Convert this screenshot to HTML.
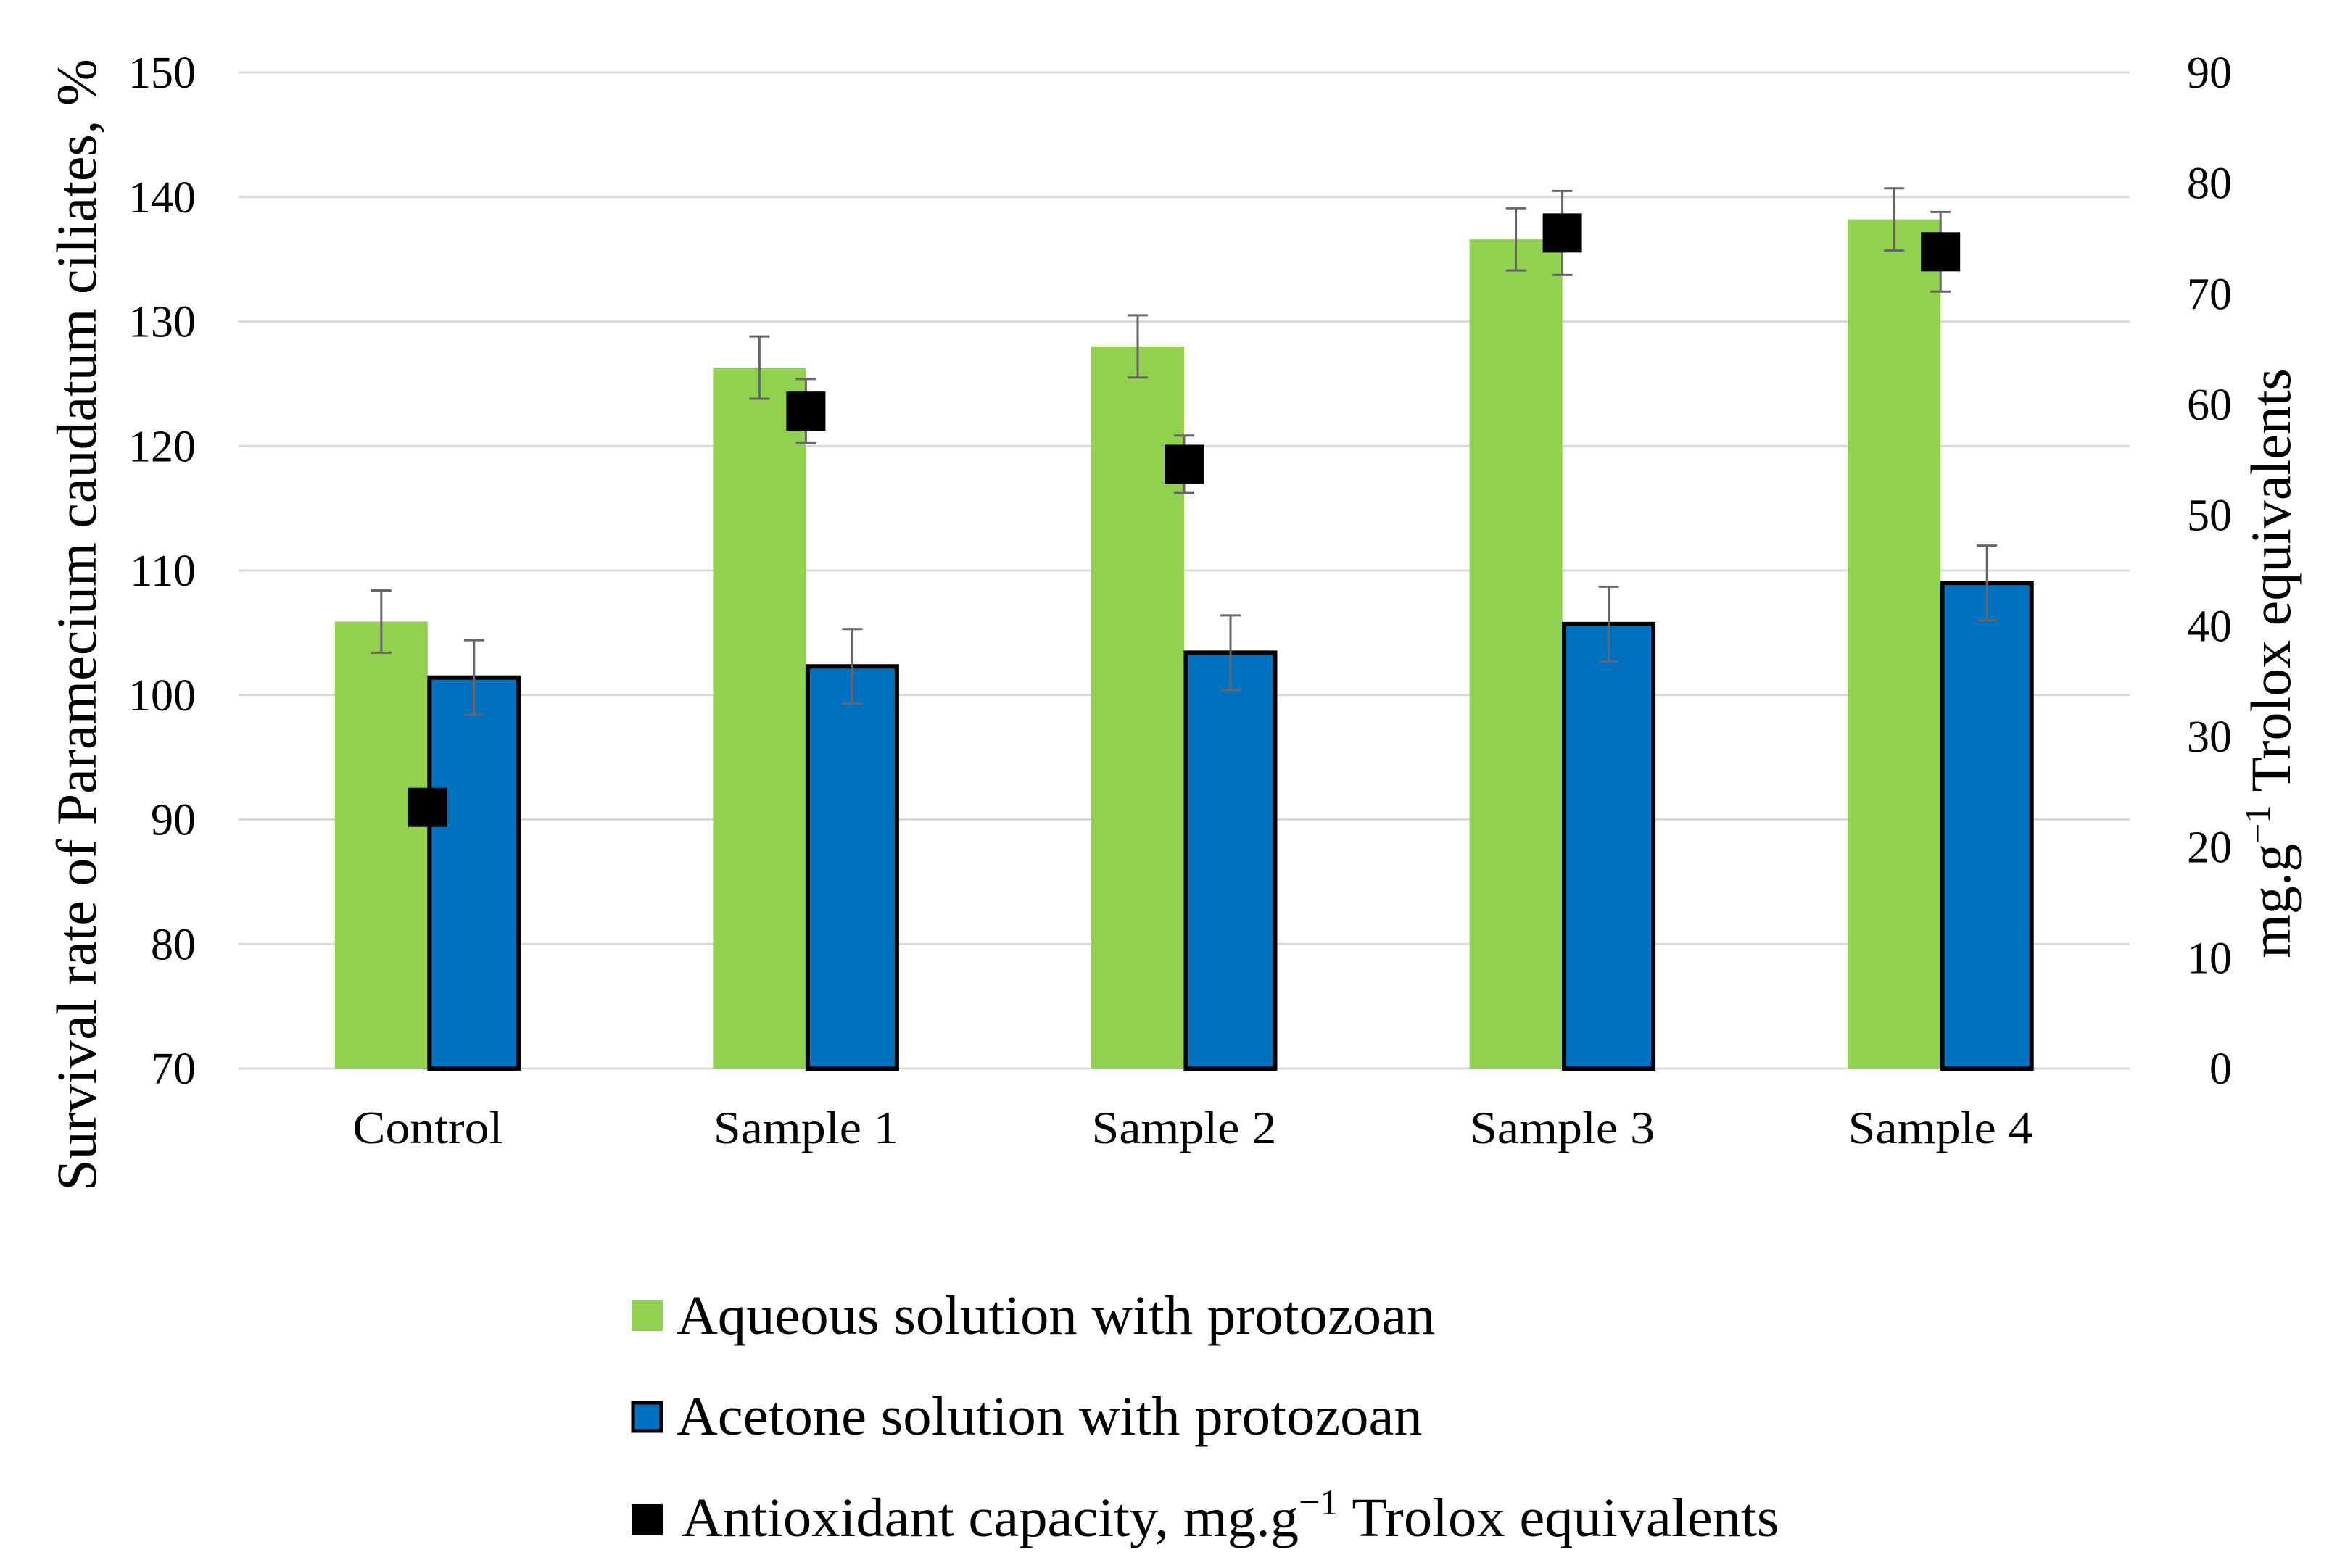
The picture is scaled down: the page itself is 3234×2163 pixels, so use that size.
<!DOCTYPE html>
<html><head><meta charset="utf-8"><style>
html,body{margin:0;padding:0;background:#fff;}
svg{display:block;font-family:"Liberation Serif",serif;}
</style></head><body>
<svg id="chart" width="3234" height="2163" viewBox="0 0 3234 2163" xmlns="http://www.w3.org/2000/svg">
<g id="grid"></g>
<g id="bars"></g>
<g id="marks"></g>
<g id="ticks"></g>
<text transform="translate(132,862) rotate(-90)" text-anchor="middle" font-size="78">Survival rate of Paramecium caudatum ciliates, %</text>
<text transform="translate(3158,915) rotate(-90)" text-anchor="middle" font-size="78">mg.g<tspan dy="-28" font-size="50">−1</tspan><tspan dy="28"> Trolox equivalents</tspan></text>
<g font-size="76">
<rect x="871" y="1793" width="43" height="43" fill="#92d050"/>
<text transform="translate(933,1840) scale(1.035,1)">Aqueous solution with protozoan</text>
<rect x="873" y="1935" width="39" height="39" fill="#0070c0" stroke="#000" stroke-width="5"/>
<text transform="translate(933,1979) scale(1.035,1)">Acetone solution with protozoan</text>
<rect x="871" y="2075" width="43" height="43" fill="#000"/>
<text transform="translate(940,2119) scale(1.035,1)">Antioxidant capacity, mg.g<tspan dy="-30" font-size="50">−1</tspan><tspan dy="30"> Trolox equivalents</tspan></text>
</g>
</svg>
<script>
const categories = ["Control","Sample 1","Sample 2","Sample 3","Sample 4"];
const aqueous = [105.9, 126.3, 128.0, 136.6, 138.2];
const aqueousErr = [2.5, 2.5, 2.5, 2.5, 2.5];
const acetone = [101.4, 102.3, 103.4, 105.7, 109.0];
const acetoneErr = [3.0, 3.0, 3.0, 3.0, 3.0];
const antioxidant = [23.6, 59.4, 54.6, 75.5, 73.8];
const antioxidantErr = [0, 2.9, 2.6, 3.8, 3.6];
const leftTicks = [70,80,90,100,110,120,130,140,150];
const rightTicks = [0,10,20,30,40,50,60,70,80,90];

const NS = "http://www.w3.org/2000/svg";
const X0 = 329, X1 = 2937, YT = 100, YB = 1474;
function yL(v){ return YB - (v-70)/(150-70)*(YB-YT); }
function yR(v){ return YB - v/90*(YB-YT); }
function xC(i){ return X0 + (X1-X0)*(i+0.5)/categories.length; }
const BW = 128;
function mk(tag, attrs, parent){ const e=document.createElementNS(NS,tag); for(const k in attrs) e.setAttribute(k,attrs[k]); parent.appendChild(e); return e; }
const grid=document.getElementById('grid'), bars=document.getElementById('bars'), marks=document.getElementById('marks'), ticks=document.getElementById('ticks');

leftTicks.forEach(t=>{
  const l=mk('line',{x1:X0,x2:X1,y1:yL(t),y2:yL(t),stroke:'#d9d9d9','stroke-width':3},grid);
  
  
  const tx=mk('text',{x:270,y:yL(t)+21,'text-anchor':'end','font-size':62},ticks);
  tx.textContent=t;
  
  
});
rightTicks.forEach(t=>{
  const tx=mk('text',{x:3078,y:yR(t)+21,'text-anchor':'end','font-size':62},ticks);
  tx.textContent=t;
  
  
});
function err(x,y1,y2,parent){
  const g=mk('g',{stroke:'#666','stroke-width':3},parent);
  
  
  mk('line',{x1:x,x2:x,y1:y1,y2:y2},g);
  mk('line',{x1:x-14,x2:x+14,y1:y1,y2:y1},g);
  mk('line',{x1:x-14,x2:x+14,y1:y2,y2:y2},g);
}
categories.forEach((c,i)=>{
  const cx=xC(i);
  const g=mk('rect',{x:cx-BW,y:yL(aqueous[i]),width:BW,height:YB-yL(aqueous[i]),fill:'#92d050'},bars);
  
  
  err(cx-BW/2,yL(aqueous[i]+aqueousErr[i]),yL(aqueous[i]-aqueousErr[i]),bars);
  const b=mk('rect',{x:cx+2.5,y:yL(acetone[i]),width:BW-5,height:YB-yL(acetone[i]),fill:'#0070c0',stroke:'#000','stroke-width':6},bars);
  
  
  err(cx+BW/2,yL(acetone[i]+acetoneErr[i]),yL(acetone[i]-acetoneErr[i]),bars);
  if(antioxidantErr[i]>0) err(cx,yR(antioxidant[i]+antioxidantErr[i]),yR(antioxidant[i]-antioxidantErr[i]),marks);
  const m=mk('rect',{x:cx-27,y:yR(antioxidant[i])-27,width:54,height:54,fill:'#000'},marks);
  
  
  const tx=mk('text',{x:cx,y:1577,'text-anchor':'middle','font-size':64,textLength:(c.length>7?255:207),lengthAdjust:'spacingAndGlyphs'},ticks);
  tx.textContent=c;
  
  
});
</script>
</body></html>
